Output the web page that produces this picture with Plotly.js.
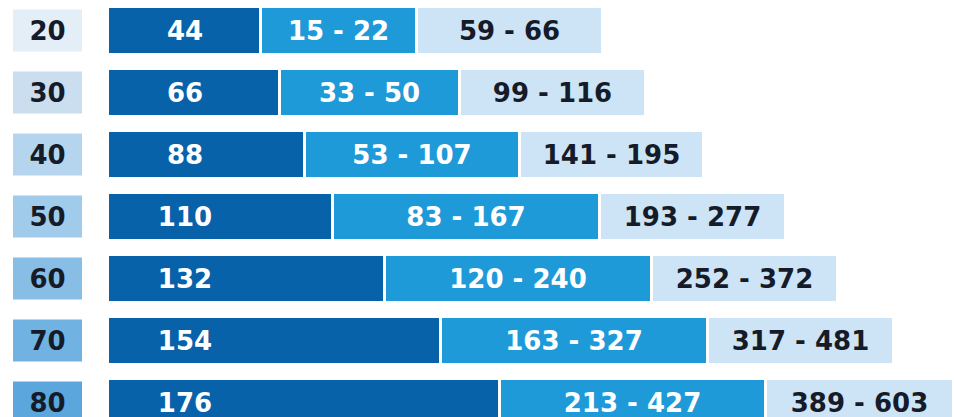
<!DOCTYPE html>
<html>
<head>
<meta charset="utf-8">
<script src="https://cdn.plot.ly/plotly-3.0.1.min.js"></script>
<style>html,body{margin:0;padding:0;background:#fff;}#chart{width:954px;height:417px;}</style>
</head>
<body>
<div id="chart"></div>
<script>
// Row labels (age)
const ages = ['20', '30', '40', '50', '60', '70', '80'];
// Dark segment: value shown, and drawn length (chart units)
const darkValues = ['44', '66', '88', '110', '132', '154', '176'];
const darkLen = [153, 172, 197, 225, 277, 333, 392];
// Medium segment: range shown, and drawn length
const midRanges = ['15 - 22', '33 - 50', '53 - 107', '83 - 167', '120 - 240', '163 - 327', '213 - 427'];
const midLen = [156, 180, 215, 267, 267, 267, 266];
// Light segment: total range shown, and drawn length
const lightRanges = ['59 - 66', '99 - 116', '141 - 195', '193 - 277', '252 - 372', '317 - 481', '389 - 603'];
const lightLen = [186, 186, 184, 186, 186, 186, 188];

const labelColors = ['#e4eef6', '#cadef0', '#b5d5ee', '#a0cbea', '#88bee6', '#70b2e2', '#5ba7dd'];
const FONT = 'DejaVu Sans';
const startX = 107.5;

const midBase = darkLen.map(d => startX + d);
const lightBase = darkLen.map((d, i) => startX + d + midLen[i]);

const barW = 48 / 62;

const traces = [
  {
    type: 'bar', orientation: 'h', y: ages, x: ages.map(() => 69), base: ages.map(() => 13),
    width: 42 / 62, marker: {color: labelColors, line: {width: 0}},
    text: ages, textposition: 'inside', insidetextanchor: 'middle', textangle: 0, constraintext: 'none',
    textfont: {family: FONT, size: 26, weight: 700, color: '#151b28'}, hoverinfo: 'skip'
  },
  {
    type: 'bar', orientation: 'h', y: ages, x: darkLen, base: ages.map(() => startX),
    width: barW, marker: {color: '#0862a9', line: {width: 3, color: '#ffffff'}}, hoverinfo: 'skip'
  },
  {
    // transparent carrier for the dark-segment labels, held at the bar's left part
    type: 'bar', orientation: 'h', y: ages, x: ages.map(() => 155), base: ages.map(() => startX),
    width: barW, marker: {color: 'rgba(0,0,0,0)', line: {width: 0}},
    text: darkValues, textposition: 'inside', insidetextanchor: 'middle', textangle: 0, constraintext: 'none',
    textfont: {family: FONT, size: 26, weight: 700, color: '#ffffff'}, hoverinfo: 'skip'
  },
  {
    type: 'bar', orientation: 'h', y: ages, x: midLen, base: midBase,
    width: barW, marker: {color: '#1f9ad8', line: {width: 3, color: '#ffffff'}},
    text: midRanges, textposition: 'inside', insidetextanchor: 'middle', textangle: 0, constraintext: 'none',
    textfont: {family: FONT, size: 26, weight: 700, color: '#ffffff'}, hoverinfo: 'skip'
  },
  {
    type: 'bar', orientation: 'h', y: ages, x: lightLen, base: lightBase,
    width: barW, marker: {color: '#cde4f6', line: {width: 3, color: '#ffffff'}},
    text: lightRanges, textposition: 'inside', insidetextanchor: 'middle', textangle: 0, constraintext: 'none',
    textfont: {family: FONT, size: 26, weight: 700, color: '#151b28'}, hoverinfo: 'skip'
  }
];

const layout = {
  width: 954, height: 417,
  margin: {l: 0, r: 0, t: 0, b: 0, pad: 0},
  paper_bgcolor: '#ffffff', plot_bgcolor: '#ffffff',
  barmode: 'overlay', showlegend: false, hovermode: false,
  xaxis: {range: [0, 954], visible: false, fixedrange: true},
  yaxis: {type: 'category', range: [(417 - 30.5) / 62, -30.5 / 62], visible: false, fixedrange: true}
};

Plotly.newPlot('chart', traces, layout, {displayModeBar: false, staticPlot: true});
</script>
</body>
</html>
